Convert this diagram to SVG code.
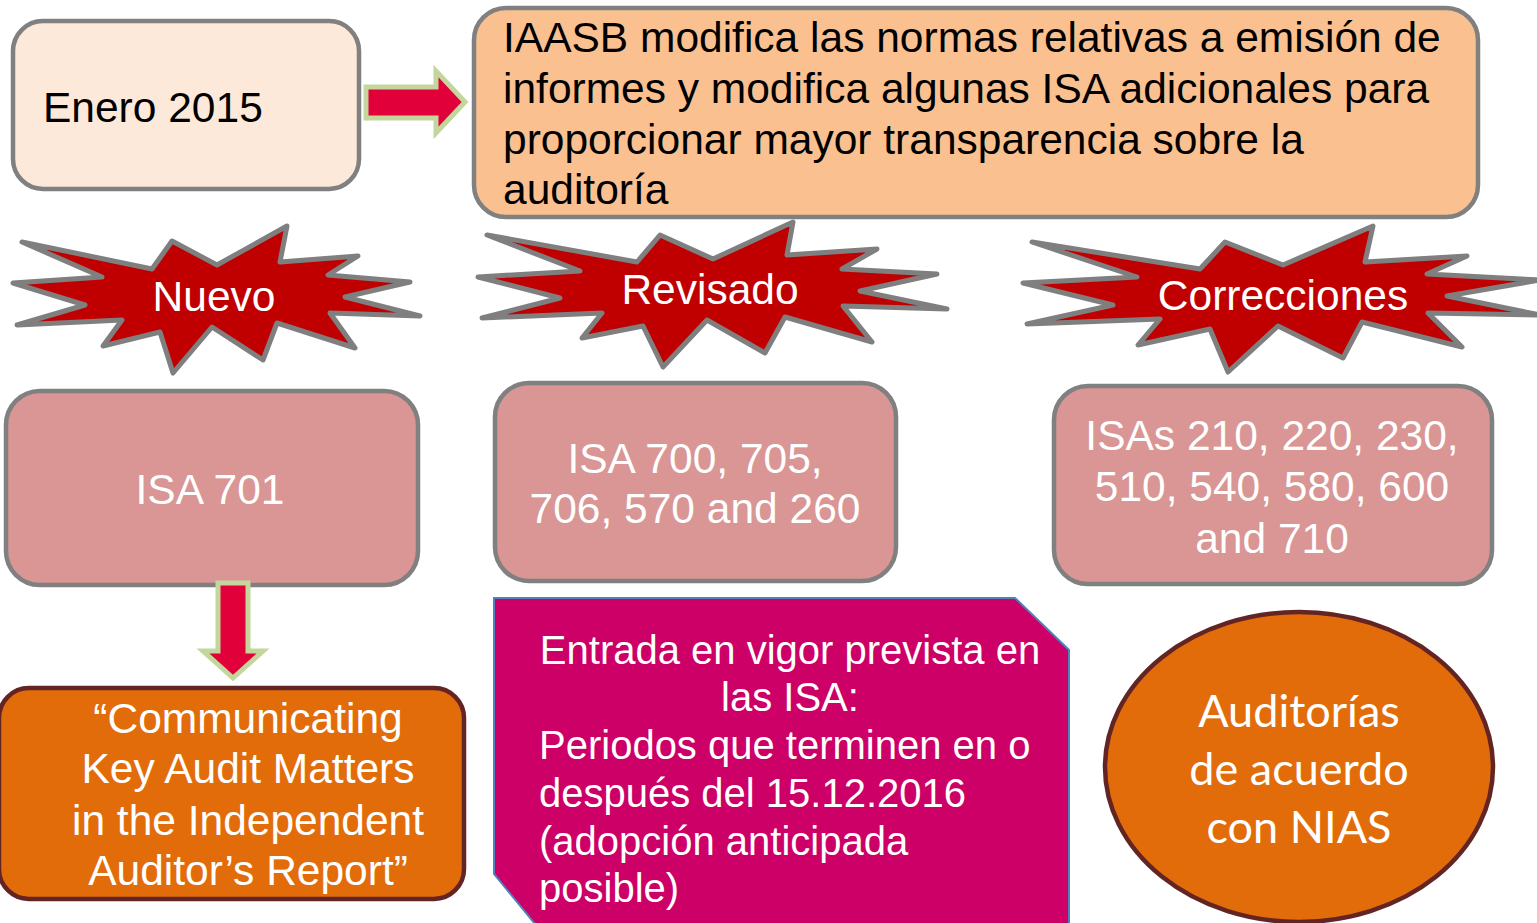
<svg xmlns="http://www.w3.org/2000/svg" width="1537" height="923" viewBox="0 0 1537 923">
<style>
.t{font-family:"Liberation Sans",Arial,sans-serif;font-size:42.5px}
.e{font-family:"Liberation Sans",Arial,sans-serif;font-size:40px}
.w{fill:#FFFFFF}
.k{fill:#000000}
.c{text-anchor:middle}
.gbox{stroke:#808080;stroke-width:4.5}
.isa{fill:#D99694}
.burst{fill:#C00000;stroke:#7F7F7F;stroke-width:5;stroke-linejoin:round}
.arr{fill:#E2003A;stroke:#C3D69B;stroke-width:5}
.org{fill:#E36C0A;stroke:#632523;stroke-width:4.5}
.n{font-family:Lato,"Open Sans",sans-serif;font-size:45px}
</style>
<rect width="1537" height="923" fill="#FFFFFF"/>
<g id="enero">
<rect class="gbox" x="13" y="21" width="346" height="168" rx="30" fill="#FDE9D9"/>
<text class="t k" x="43" y="122">Enero 2015</text>
</g>
<g id="iaasb">
<rect class="gbox" x="474" y="8" width="1004" height="209" rx="32" fill="#FAC090"/>
<text class="t k" x="503" y="52">IAASB modifica las normas relativas a emisión de</text>
<text class="t k" x="503" y="103">informes y modifica algunas ISA adicionales para</text>
<text class="t k" x="503" y="154">proporcionar mayor transparencia sobre la</text>
<text class="t k" x="503" y="204">auditoría</text>
</g>
<g id="nuevo">
<polygon class="burst" points="22,242 152,269 172,241 217,265 287,226 280,262 358,256 328,275 410,282 345,297 420,316 330,313 355,348 277,323 263,360 212,327 173,373 160,332 103,346 122,320 17,325 85,305 13,283 102,277"/>
<text class="t w c" x="214" y="311">Nuevo</text>
</g>
<g id="revisado">
<polygon class="burst" points="487,235 637,262 660,235 713,259 793,222 787,255 877,249 842,269 937,274 860,291 947,309 843,306 872,342 785,317 765,353 707,320 663,367 643,326 582,338 602,313 482,318 560,298 478,277 580,271"/>
<text class="t w c" x="710" y="304">Revisado</text>
</g>
<g id="correcciones">
<polygon class="burst" points="1032,242 1200,269 1225,242 1283,265 1373,226 1365,262 1467,256 1427,274 1540,280 1447,296 1540,315 1428,313 1462,347 1362,322 1343,358 1278,326 1228,372 1210,329 1138,345 1160,319 1027,324 1113,305 1023,283 1137,277"/>
<text class="t w c" x="1283" y="310">Correcciones</text>
</g>
<g id="isa701">
<rect class="gbox isa" x="6" y="391" width="412" height="194" rx="34"/>
<text class="t w c" x="210" y="504">ISA 701</text>
</g>
<g id="isa700">
<rect class="gbox isa" x="495" y="383" width="401" height="198" rx="34"/>
<text class="t w c" x="695" y="473">ISA 700, 705,</text>
<text class="t w c" x="695" y="523">706, 570 and 260</text>
</g>
<g id="isas">
<rect class="gbox isa" x="1054" y="386" width="438" height="198" rx="34"/>
<text class="t w c" x="1272" y="450">ISAs 210, 220, 230,</text>
<text class="t w c" x="1272" y="501">510, 540, 580, 600</text>
<text class="t w c" x="1272" y="553">and 710</text>
</g>
<g id="kam">
<rect class="org" x="-1" y="688" width="465" height="211" rx="30"/>
<text class="t w c" x="248" y="733">“Communicating</text>
<text class="t w c" x="248" y="783">Key Audit Matters</text>
<text class="t w c" x="248" y="835">in the Independent</text>
<text class="t w c" x="248" y="885">Auditor’s Report”</text>
</g>
<g id="entrada">
<polygon points="494,598 1015,598 1069,650 1069,930 540,930 494,874" fill="#CC0066" stroke="#4F81BD" stroke-width="2"/>
<text class="e w c" x="790" y="664">Entrada en vigor prevista en</text>
<text class="e w c" x="790" y="711">las ISA:</text>
<text class="e w" x="539" y="759">Periodos que terminen en o</text>
<text class="e w" x="539" y="807">después del 15.12.2016</text>
<text class="e w" x="539" y="855">(adopción anticipada</text>
<text class="e w" x="539" y="902">posible)</text>
</g>
<g id="nias">
<ellipse class="org" cx="1299" cy="767" rx="194" ry="155"/>
<text class="n w c" x="1299" y="727">Auditorías</text>
<text class="n w c" x="1299" y="785">de acuerdo</text>
<text class="n w c" x="1299" y="843">con NIAS</text>
</g>
<g id="connectors">
<polygon class="arr" points="366,87 436,87 436,71 465,102 436,133 436,118 366,118"/>
<polygon class="arr" points="218,583 248,583 248,651 263,651 233,678 203,651 218,651"/>
</g>
</svg>
